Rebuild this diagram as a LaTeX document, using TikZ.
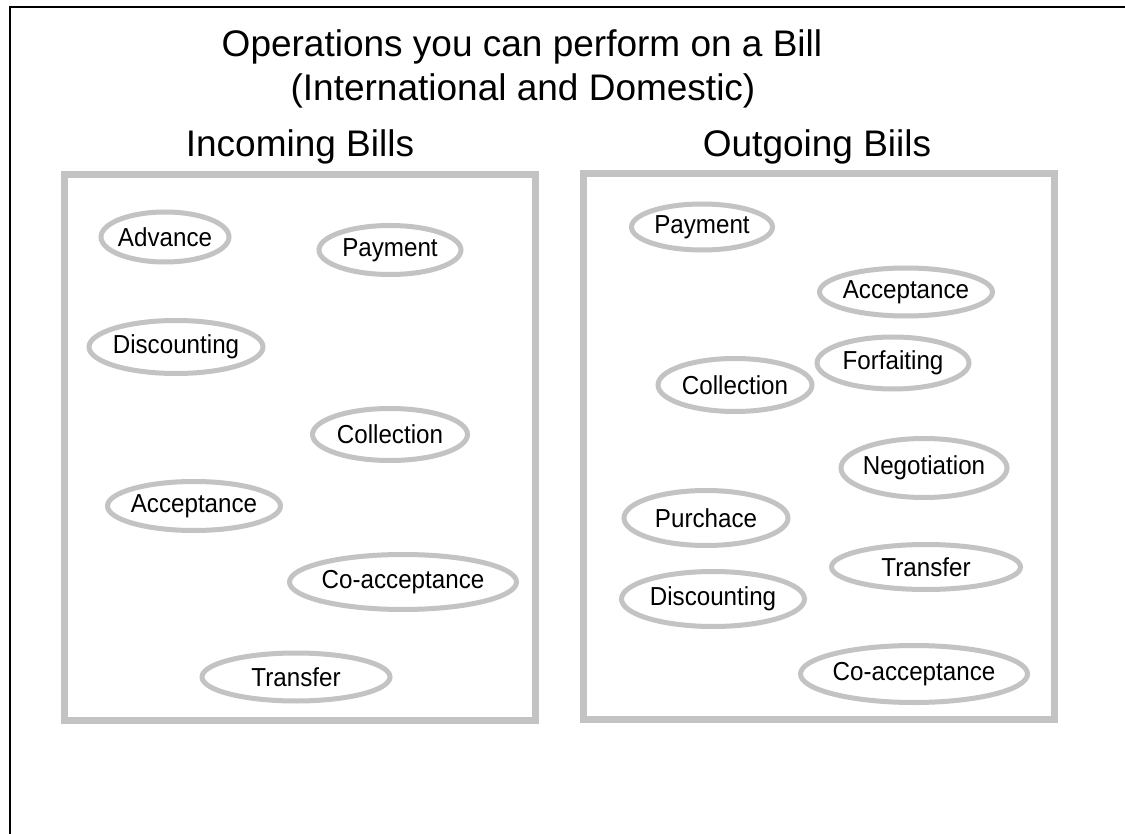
\documentclass[tikz,border=0pt]{standalone}
\usepackage{fontspec}
\setmainfont{Liberation Sans}
\newfontfamily\lblfont[FakeStretch=0.93]{Liberation Sans}
\usetikzlibrary{shapes.geometric}
\definecolor{boxgray}{HTML}{C3C3C3}
\begin{document}
\begin{tikzpicture}[x=1pt,y=-1pt,
  op/.style={ellipse, draw=boxgray, line width=5pt, inner xsep=-15pt, inner ysep=0pt,
    font=\lblfont\fontsize{26}{30}\selectfont},
  panel/.style={draw=boxgray, line width=7pt},
  ttl/.style={font=\fontsize{37}{42}\selectfont, anchor=base, inner sep=0pt}]
\useasboundingbox (0,0) rectangle (1125,834);
\fill[white] (0,0) rectangle (1125,834);
\draw[line width=2pt] (10,834) -- (10,7) -- (1125,7);

% titles
\node[ttl] (t1) at (522,57) {Operations you can perform on a Bill};
\node[ttl] (t2) at (523,101) {(International and Domestic)};
\node[ttl] (hin) at (300,157) {Incoming Bills};
\node[ttl] (hout) at (817,157) {Outgoing Biils};

% panels
\draw[panel] (64.5,175) rectangle (535.5,720.5);
\draw[panel] (583,174) rectangle (1054,719);

% incoming
\node[op, minimum width=128pt, minimum height=50pt] (iAdv) at (165,237) {Advance};
\node[op, minimum width=142pt, minimum height=49pt] (iPay) at (390,250) {Payment};
\node[op, minimum width=174pt, minimum height=53pt] (iDis) at (176,347) {Discounting};
\node[op, minimum width=155pt, minimum height=52pt] (iCol) at (390,434.5) {Collection};
\node[op, minimum width=173pt, minimum height=49pt] (iAcc) at (194,506) {Acceptance};
\node[op, minimum width=227pt, minimum height=55pt] (iCoa) at (403,582) {Co-acceptance};
\node[op, minimum width=188pt, minimum height=48pt] (iTra) at (296,677) {Transfer};

% outgoing
\node[op, minimum width=141pt, minimum height=46pt] (oPay) at (702,227) {Payment};
\node[op, minimum width=173pt, minimum height=48pt] (oAcc) at (906,292) {Acceptance};
\node[op, minimum width=152pt, minimum height=52pt] (oFor) at (893,363) {Forfaiting};
\node[op, minimum width=154pt, minimum height=53pt] (oCol) at (735,385) {Collection};
\node[op, minimum width=166pt, minimum height=59pt] (oNeg) at (924,468) {Negotiation};
\node[op, minimum width=164pt, minimum height=55pt] (oPur) at (706,518) {Purchace};
\node[op, minimum width=189pt, minimum height=45pt] (oTra) at (926,567) {Transfer};
\node[op, minimum width=183pt, minimum height=55pt] (oDis) at (713,599) {Discounting};
\node[op, minimum width=227pt, minimum height=57pt] (oCoa) at (914,674) {Co-acceptance};
\end{tikzpicture}
\end{document}
